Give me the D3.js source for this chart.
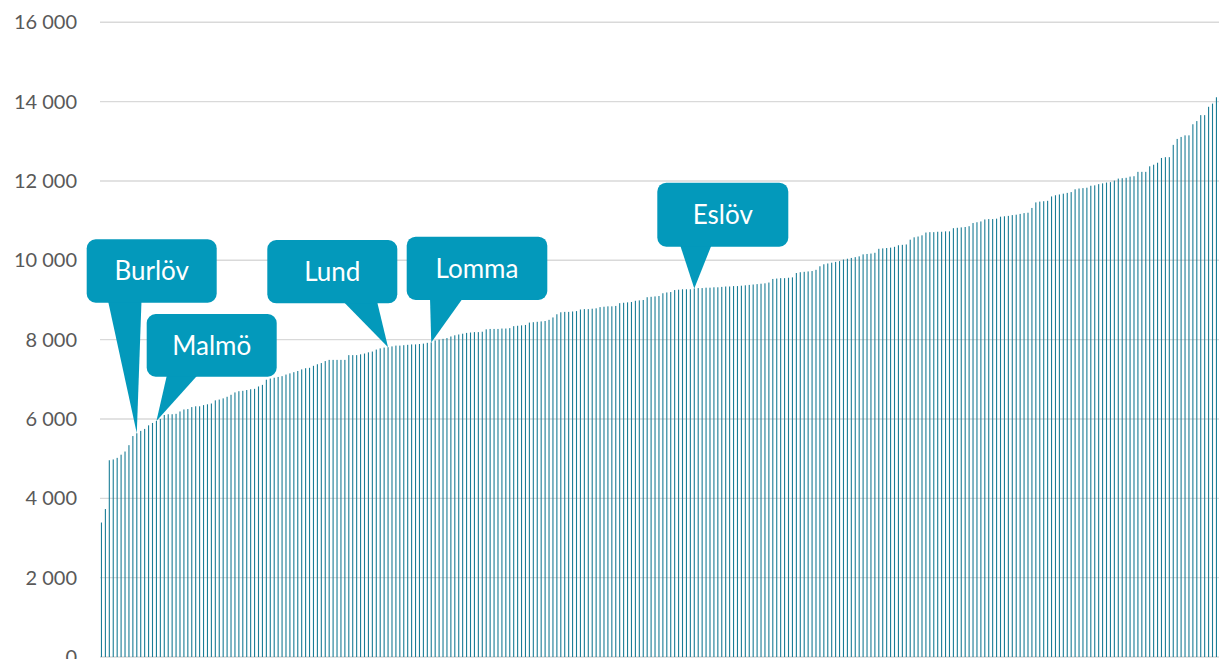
<!DOCTYPE html>
<html>
<head>
<meta charset="utf-8">
<script src="https://cdn.jsdelivr.net/npm/d3@7/dist/d3.min.js"></script>
<style>
  html, body { margin: 0; padding: 0; background: #ffffff; overflow: hidden; }
  svg { display: block; }
</style>
</head>
<body>
<svg id="chart" width="1219" height="659"></svg>
<script>
// Values per municipality, sorted ascending
const values = [
  3390, 3730, 4960, 4980, 5020, 5100, 5180, 5340, 5570, 5640,
  5700, 5750, 5840, 5900, 5950, 6000, 6100, 6120, 6120, 6130,
  6190, 6240, 6250, 6300, 6320, 6320, 6350, 6370, 6390, 6470,
  6490, 6520, 6560, 6610, 6670, 6700, 6710, 6730, 6750, 6760,
  6820, 6860, 6990, 7020, 7040, 7060, 7080, 7120, 7150, 7180,
  7210, 7250, 7280, 7290, 7340, 7380, 7410, 7460, 7490, 7490,
  7490, 7490, 7490, 7610, 7610, 7610, 7630, 7650, 7680, 7700,
  7750, 7780, 7800, 7810, 7830, 7850, 7850, 7860,
  7870, 7880, 7880, 7890, 7900, 7920,
  7930,
  7980, 8000, 8020, 8040,
  8080, 8110, 8130, 8150, 8170,
  8180, 8190, 8190, 8200,
  8260, 8270, 8270, 8270, 8280, 8280, 8290,
  8340, 8350, 8360, 8370,
  8430, 8440, 8450, 8460, 8470,
  8500, 8560,
  8640, 8690, 8700, 8700, 8710, 8720,
  8760, 8770, 8770, 8780, 8790,
  8820, 8830, 8840, 8840, 8850,
  8920, 8930, 8940, 8950,
  8980, 8990, 9000,
  9070, 9080, 9090, 9100,
  9170, 9190, 9200,
  9250, 9260, 9270, 9270, 9270, 9290,
  9300, 9300, 9310, 9310, 9320, 9320, 9330, 9340, 9340, 9350, 9350,
  9360, 9370, 9380, 9390, 9400, 9410, 9420, 9440,
  9530, 9540, 9550, 9550, 9560, 9570,
  9680, 9700, 9710, 9720, 9730, 9760,
  9850, 9900, 9920, 9940, 9960, 9980,
  10020, 10040, 10060, 10080, 10100,
  10150, 10160, 10170, 10190,
  10290, 10300, 10310, 10320, 10340,
  10380, 10390, 10400,
  10520, 10580, 10600, 10630,
  10700, 10710, 10710, 10720, 10720, 10730, 10730,
  10810, 10820, 10830, 10840, 10860,
  10940, 10960, 10980,
  11030, 11040, 11040, 11050,
  11100, 11110, 11120, 11140, 11150, 11170, 11190,
  11200, 11320,
  11460, 11480, 11490, 11500,
  11610, 11640, 11660, 11680, 11700, 11720,
  11790, 11810,
  11820, 11830, 11880, 11890, 11920, 11940, 11960, 11970, 12010, 12060,
  12070, 12080, 12110, 12120, 12230, 12230, 12230, 12370, 12410, 12460,
  12580, 12600, 12600, 12910, 13060, 13110, 13150, 13150, 13430, 13510,
  13660, 13660, 13870, 13950, 14110
];

// Highlighted municipalities and their position in the sorted list
const calloutNames = ["Burlöv", "Malmö", "Lund", "Lomma", "Eslöv"];
const calloutIndex = [9, 14, 73, 84, 151];

// Y-axis ticks
const yTicks = [0, 2000, 4000, 6000, 8000, 10000, 12000, 14000, 16000];

// Layout
const W = 1219, H = 659;
const plot = { left: 99.5, right: 1218.4, top: 22.3, bottom: 657 };
const barColor = "#1a7d96";
const calloutColor = "#0399bb";
const fontStack = "Lato, 'Open Sans', sans-serif";

// Callout box placement (box x, y, width, height; pointer base x-range along box bottom)
const calloutLayout = [
  { box: [86.7, 239.3, 130, 63.4], base: [108, 141.5] },
  { box: [146.7, 314, 130, 62.7], base: [167, 198] },
  { box: [267.3, 240, 130, 63.3], base: [343, 377] },
  { box: [406.7, 236.7, 140.6, 63.3], base: [430, 463] },
  { box: [657.3, 182.7, 131, 64], base: [680, 711.7] }
];

const svg = d3.select("#chart");

const x = d3.scaleBand()
  .domain(d3.range(values.length))
  .range([plot.left, plot.right])
  .paddingInner(0.72)
  .paddingOuter(0.36);

const y = d3.scaleLinear()
  .domain([0, 16000])
  .range([plot.bottom, plot.top]);

// Thousands separated by a space
const fmt = v => d3.format(",")(v).replace(/,/g, " ");

// Gridlines
svg.append("g")
  .selectAll("line")
  .data(yTicks)
  .join("line")
  .attr("x1", 100)
  .attr("x2", W)
  .attr("y1", d => y(d))
  .attr("y2", d => y(d))
  .attr("stroke", "#d9d9d9")
  .attr("stroke-width", 1.4);

// Y-axis labels
const yAxis = d3.axisLeft(y)
  .tickValues(yTicks)
  .tickSize(0)
  .tickPadding(0)
  .tickFormat(fmt);

const gy = svg.append("g")
  .attr("transform", "translate(77,0)")
  .call(yAxis);
gy.select(".domain").remove();
gy.selectAll("text")
  .attr("fill", "#595959")
  .style("font-family", fontStack)
  .style("font-size", "20px");

// Bars
svg.append("g")
  .selectAll("rect")
  .data(values)
  .join("rect")
  .attr("x", (d, i) => x(i))
  .attr("y", d => y(d))
  .attr("width", x.bandwidth())
  .attr("height", d => y(0) - y(d))
  .attr("fill", barColor);

// Callouts
const callouts = calloutNames.map((name, k) => {
  const idx = calloutIndex[k];
  return {
    name,
    tipX: x(idx) + x.bandwidth() / 2,
    tipY: y(values[idx]),
    ...calloutLayout[k]
  };
});

const cg = svg.append("g")
  .selectAll("g")
  .data(callouts)
  .join("g");

cg.append("path")
  .attr("d", d => {
    const bottom = d.box[1] + d.box[3] - 2;
    return `M${d.base[0]},${bottom} L${d.tipX},${d.tipY} L${d.base[1]},${bottom} Z`;
  })
  .attr("fill", calloutColor);

cg.append("rect")
  .attr("x", d => d.box[0])
  .attr("y", d => d.box[1])
  .attr("width", d => d.box[2])
  .attr("height", d => d.box[3])
  .attr("rx", 9)
  .attr("ry", 9)
  .attr("fill", calloutColor);

cg.append("text")
  .attr("x", d => d.box[0] + d.box[2] / 2)
  .attr("y", d => d.box[1] + d.box[3] / 2)
  .attr("text-anchor", "middle")
  .attr("dy", "0.36em")
  .attr("fill", "#ffffff")
  .style("font-family", fontStack)
  .style("font-size", "26px")
  .text(d => d.name);
</script>
</body>
</html>
